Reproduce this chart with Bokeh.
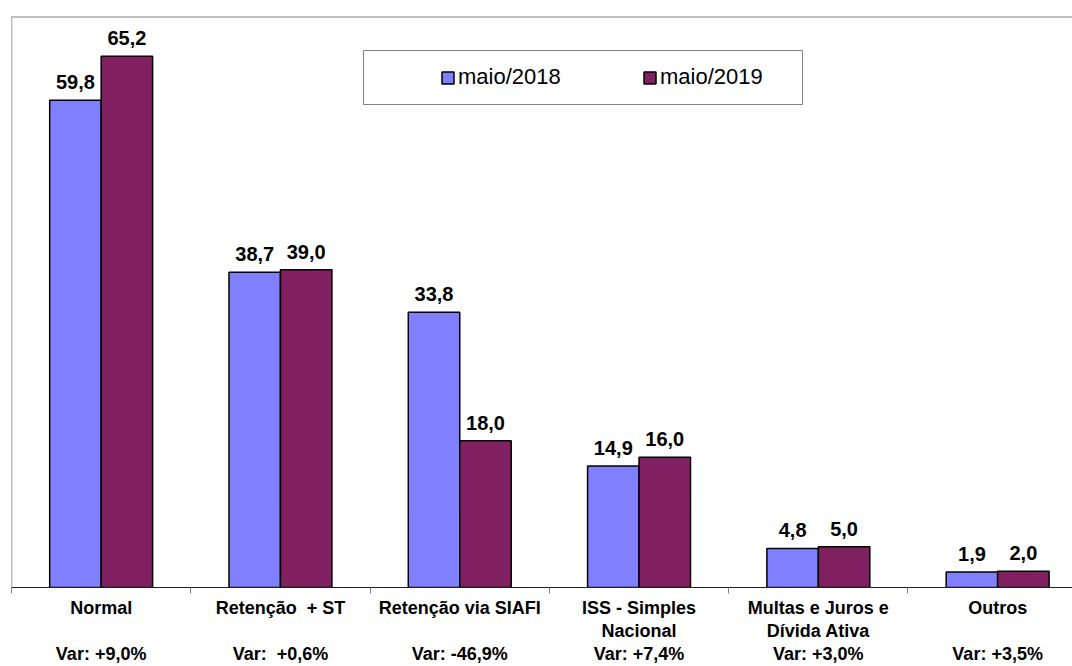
from bokeh.plotting import figure
from bokeh.models import (Range1d, FixedTicker, Legend, LegendItem, BoxAnnotation,
                          ColumnDataSource, Span)
from bokeh.core.properties import value
from bokeh.embed import file_html
from bokeh.resources import INLINE

# ---- data ----
categories = ["Normal", "Retenção \u00a0+ ST", "Retenção via SIAFI",
              "ISS - Simples\nNacional", "Multas e Juros e\nDívida Ativa", "Outros"]
variations = ["Var: +9,0%", "Var: \u00a0+0,6%", "Var: -46,9%",
              "Var: +7,4%", "Var: +3,0%", "Var: +3,5%"]
may2018 = [59.8, 38.7, 33.8, 14.9, 4.8, 1.9]
may2019 = [65.2, 39.0, 18.0, 16.0, 5.0, 2.0]
series_names = ["maio/2018", "maio/2019"]

BLUE = "#8080FF"
PLUM = "#802060"
FONT = "Liberation Sans"

idx = list(range(len(categories)))
bw = 0.287
off = bw / 2
X0, X1 = -0.5, 5.4175
Y0, Y1 = 0, 70.09

def fmt(v):
    return f"{v:.1f}".replace(".", ",")

src18 = ColumnDataSource(dict(x=[i - off for i in idx], top=may2018,
                              lab=[fmt(v) for v in may2018]))
src19 = ColumnDataSource(dict(x=[i + off for i in idx], top=may2019,
                              lab=[fmt(v) for v in may2019]))

p = figure(width=1072, height=666,
           x_range=Range1d(X0, X1), y_range=Range1d(Y0, Y1),
           output_backend="svg", toolbar_location=None,
           y_axis_location=None,
           min_border_left=11, min_border_right=0, min_border_top=16,
           min_border_bottom=0)
p.xgrid.visible = False
p.ygrid.visible = False
p.outline_line_color = None
p.background_fill_color = "white"
p.border_fill_color = "white"

# plot-area border (top and left only; right side is cut off in the original)
p.add_layout(Span(location=Y1, dimension="width", line_color="#808080", line_width=2))
p.add_layout(Span(location=X0, dimension="height", line_color="#808080", line_width=1.5))

r18 = p.vbar(x="x", top="top", width=bw, bottom=0, source=src18,
             fill_color=BLUE, line_color="black", line_width=1.5)
r19 = p.vbar(x="x", top="top", width=bw, bottom=0, source=src19,
             fill_color=PLUM, line_color="black", line_width=1.5)

for s in (src18, src19):
    p.text(x="x", y="top", text="lab", source=s, text_align="center",
           text_baseline="alphabetic", y_offset=-18,
           text_font=value(FONT), text_font_style="bold",
           text_font_size="20px", text_color="black")

# x axis: labels at centres, small ticks at category boundaries
ax = p.xaxis[0]
ax.ticker = FixedTicker(ticks=idx, minor_ticks=[i - 0.5 for i in range(len(idx) + 1)])
ax.major_label_overrides = {
    i: c + ("\n" if "\n" in c else "\n\n") + v
    for i, (c, v) in enumerate(zip(categories, variations))
}
ax.major_tick_line_color = None
ax.major_tick_in = 0
ax.major_tick_out = 6
ax.minor_tick_in = 0
ax.minor_tick_out = 6
ax.minor_tick_line_color = "#808080"
ax.axis_line_color = "#202020"
ax.axis_line_width = 1
ax.major_label_standoff = 4
ax.major_label_text_font = FONT
ax.major_label_text_font_style = "bold"
ax.major_label_text_font_size = "18px"
ax.major_label_text_line_height = 1.15
ax.major_label_text_color = "black"

# legend frame
box = BoxAnnotation(left=352, right=791, bottom=483, top=537,
                    left_units="screen", right_units="screen",
                    bottom_units="screen", top_units="screen",
                    fill_color="white", fill_alpha=1.0,
                    line_color="#808080", line_alpha=1.0, line_width=1,
                    line_dash="solid")
p.add_layout(box)

legend = Legend(items=[LegendItem(label=series_names[0], renderers=[r18]),
                       LegendItem(label=series_names[1], renderers=[r19])],
                orientation="horizontal", location=(429, 497),
                padding=0, margin=0, border_line_color=None,
                background_fill_alpha=0,
                glyph_width=15, glyph_height=15, label_standoff=3,
                spacing=78, label_width=106, label_height=24,
                label_text_font=FONT, label_text_font_size="22px",
                label_text_color="black")
p.add_layout(legend)

open("out.html", "w").write(file_html(p, INLINE))
